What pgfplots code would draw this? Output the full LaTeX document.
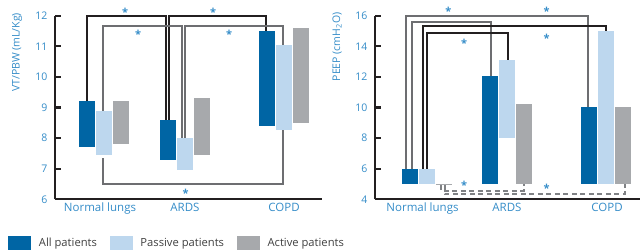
\documentclass[border=0pt]{standalone}
\usepackage{fontspec}
\setmainfont{Open Sans}
\usepackage{pgfplots}
\pgfplotsset{compat=1.18}
\definecolor{cdark}{RGB}{0,101,164}
\definecolor{clight}{RGB}{189,215,238}
\definecolor{cgray}{RGB}{167,169,172}
\definecolor{bgray}{RGB}{109,110,113}
\definecolor{bblack}{RGB}{35,31,32}
\definecolor{tblue}{RGB}{52,140,200}
\definecolor{dgray}{RGB}{128,130,133}
\definecolor{ltext}{RGB}{64,64,64}
\newcommand{\lfont}{\fontsize{10.5}{12}\selectfont}
\newcommand{\cfont}{\fontsize{11.5}{13}\selectfont}
\newcommand{\gfont}{\fontsize{11.2}{13}\selectfont}
\pgfplotsset{
  panel/.style={scale only axis, axis lines*=left, clip=false, enlargelimits=false,
    axis line style={line width=2.2pt, bblack},
    tick align=inside, major tick length=5.5pt,
    ytick style={line width=2.2pt, bblack}, xtick style={draw=none},
    tick label style={font=\lfont, text=tblue},
    xticklabel style={font=\cfont, text=tblue},
    /pgf/number format/assume math mode=true,
    yticklabel style={xshift=-4pt},
    ylabel style={font=\lfont, text=tblue, anchor=center},
  },
  rb/.style={fill=#1, draw=none, forget plot},
  br/.style={line width=2.1pt, #1, forget plot, mark=none},
  dbr/.style={line width=1.8pt, dgray, dash pattern=on 5pt off 3.5pt, forget plot, mark=none},
}
\tikzset{st/.style={font=\fontsize{11}{12}\selectfont\bfseries, text=tblue, inner sep=0pt, anchor=north, yshift=1.8pt}}
\begin{document}
\begin{tikzpicture}
% ---------------- Left panel: VT/PBW ----------------
\begin{axis}[panel, at={(55pt,51.7pt)}, anchor=south west, width=267pt, height=183.6pt,
  xmin=55, xmax=322, ymin=6, ymax=12, ytick={6,7,...,12},
  xtick={100,185,284}, xticklabels={Normal lungs, ARDS, COPD},
  ylabel={VT/PBW (mL/Kg)},
  ylabel style={at={(axis description cs:-0.142,0.80)}},
  legend image code/.code={\fill[#1] (0pt,-7pt) rectangle (23pt,7pt); \path (28.5pt,0pt);},
  legend style={at={(axis description cs:-0.175,-0.238)}, anchor=west, draw=none, fill=none,
    font=\gfont, text=ltext, inner sep=0pt, legend columns=3,
    /tikz/every even column/.append style={column sep=11pt}},
  legend cell align=left]
% bars: (left,low) (right,low) (right,high) (left,high)
\addplot[fill=cdark, draw=none] coordinates {(79,7.7) (95,7.7) (95,9.2) (79,9.2)} -- cycle;
\addlegendentry{All patients}
\addplot[fill=clight, draw=none] coordinates {(96,7.45) (112,7.45) (112,8.9) (96,8.9)} -- cycle;
\addlegendentry{Passive patients}
\addplot[fill=cgray, draw=none] coordinates {(113,7.8) (129,7.8) (129,9.2) (113,9.2)} -- cycle;
\addlegendentry{Active patients}
\addplot[rb=cdark] coordinates {(160,7.28) (176,7.28) (176,8.6) (160,8.6)} -- cycle;
\addplot[rb=clight] coordinates {(177,6.95) (193,6.95) (193,8.0) (177,8.0)} -- cycle;
\addplot[rb=cgray] coordinates {(194,7.45) (210,7.45) (210,9.3) (194,9.3)} -- cycle;
\addplot[rb=cdark] coordinates {(259,8.4) (275,8.4) (275,11.5) (259,11.5)} -- cycle;
\addplot[rb=clight] coordinates {(276,8.25) (292,8.25) (292,11.05) (276,11.05)} -- cycle;
\addplot[rb=cgray] coordinates {(293,8.5) (309,8.5) (309,11.6) (293,11.6)} -- cycle;
% brackets
\addplot[br=bblack] coordinates {(86.7,9.2) (86.7,12.0) (165.7,12.0) (165.7,8.6)};
\addplot[br=bblack] coordinates {(169,8.6) (169,12.0) (265.7,12.0) (265.7,11.5)};
\addplot[br=bgray] coordinates {(103.3,8.9) (103.3,11.67) (181.7,11.67) (181.7,8.0)};
\addplot[br=bgray] coordinates {(185,8.0) (185,11.67) (283.3,11.67) (283.3,11.05)};
\addplot[br=bgray] coordinates {(103.3,7.34) (103.3,6.49) (283.3,6.49) (283.3,8.25)};
\node[st] at (axis cs:125,12.19) {*};
\node[st] at (axis cs:213,12.19) {*};
\node[st] at (axis cs:138,11.47) {*};
\node[st] at (axis cs:229,11.47) {*};
\node[st] at (axis cs:185.7,6.28) {*};
\end{axis}
% ---------------- Right panel: PEEP ----------------
\begin{axis}[panel, at={(375pt,51.7pt)}, anchor=south west, width=265pt, height=183.6pt,
  xmin=375, xmax=640, ymin=4, ymax=16, ytick={4,6,...,16},
  xtick={422.5,507,607}, xticklabels={Normal lungs, ARDS, COPD},
  ylabel={PEEP (cmH\textsubscript{2}O)},
  ylabel style={at={(axis description cs:-0.143,0.83)}}]
\addplot[rb=cdark] coordinates {(402.3,5) (418,5) (418,6) (402.3,6)} -- cycle;
\addplot[rb=clight] coordinates {(419,5) (434.7,5) (434.7,6) (419,6)} -- cycle;
\addplot[rb=cgray] coordinates {(435.7,4.93) (451.7,4.93) (451.7,5.0) (435.7,5.0)} -- cycle;
\addplot[rb=cdark] coordinates {(482,5) (498,5) (498,12.05) (482,12.05)} -- cycle;
\addplot[rb=clight] coordinates {(499,8) (515,8) (515,13.1) (499,13.1)} -- cycle;
\addplot[rb=cgray] coordinates {(516,5) (532,5) (532,10.2) (516,10.2)} -- cycle;
\addplot[rb=cdark] coordinates {(581,5) (597,5) (597,10) (581,10)} -- cycle;
\addplot[rb=clight] coordinates {(598,5) (614,5) (614,15) (598,15)} -- cycle;
\addplot[rb=cgray] coordinates {(615,5) (631,5) (631,10) (615,10)} -- cycle;
% brackets
\addplot[br=bgray] coordinates {(405.7,6.0) (405.7,16.0) (588.3,16.0) (588.3,10.0)};
\addplot[br=bgray] coordinates {(411.7,6.0) (411.7,15.59) (490.7,15.59) (490.7,12.05)};
\addplot[br=bblack] coordinates {(423.3,6.0) (423.3,15.35) (606,15.35) (606,15.0)};
\addplot[br=bblack] coordinates {(427.3,6.0) (427.3,14.89) (507.7,14.89) (507.7,13.1)};
\addplot[dbr] coordinates {(441,4.93) (441,4.56) (524,4.56) (524,5.0)};
\addplot[dbr] coordinates {(445,4.93) (445,4.33) (625,4.33) (625,5.0)};
\node[st] at (axis cs:448.3,16.44) {*};
\node[st] at (axis cs:546.7,16.44) {*};
\node[st] at (axis cs:464,14.37) {*};
\node[st] at (axis cs:546.7,14.69) {*};
\node[st] at (axis cs:464,5.11) {*};
\node[st] at (axis cs:546.7,4.89) {*};
\end{axis}
\pgfresetboundingbox
\path[use as bounding box] (0pt,0pt) rectangle (640pt,251pt);
\end{tikzpicture}
\end{document}
